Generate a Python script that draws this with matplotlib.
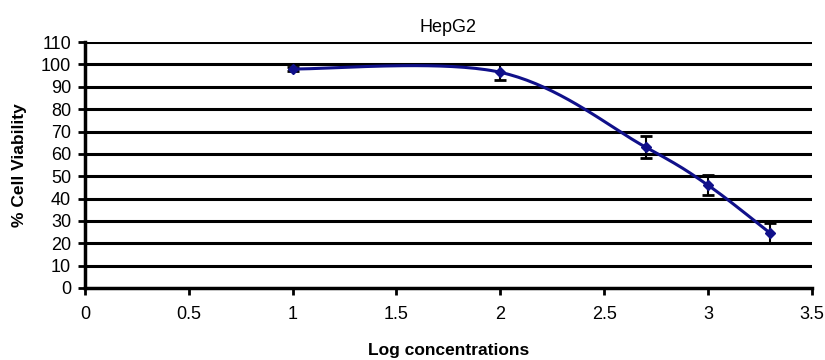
import matplotlib.pyplot as plt
import numpy as np

plt.rcParams['font.family'] = ['Liberation Sans', 'DejaVu Sans']

# data
log_conc = [1, 2, 2.7, 3, 3.3]
viability = [98, 96.5, 63, 46, 24.5]
viability_err = [1, 3.5, 5, 4.5, 4.5]


def smooth_curve(xs, ys, n=40):
    # Excel-like smoothed line: cubic Bezier through the points
    pts = np.column_stack([xs, ys]).astype(float)
    out = []
    for i in range(len(pts) - 1):
        p0 = pts[max(i - 1, 0)]
        p1 = pts[i]
        p2 = pts[i + 1]
        p3 = pts[min(i + 2, len(pts) - 1)]
        c1 = p1 + (p2 - p0) / 6
        c2 = p2 - (p3 - p1) / 6
        t = np.linspace(0, 1, n)[:, None]
        seg = ((1 - t) ** 3) * p1 + 3 * ((1 - t) ** 2) * t * c1 + 3 * (1 - t) * t ** 2 * c2 + t ** 3 * p2
        out.append(seg)
    out = np.vstack(out)
    return out[:, 0], out[:, 1]


fig = plt.figure(figsize=(8.25, 3.6), dpi=100)
ax = fig.add_axes([0.103, 0.2, 0.881, 0.683])

# horizontal grid lines
for yv in range(10, 111, 10):
    ax.axhline(yv, color='black', lw=2.2, zorder=1)

sx, sy = smooth_curve(log_conc, viability)
ax.plot(sx, sy, color='#10108a', lw=2.2, zorder=3)
ax.errorbar(log_conc, viability, yerr=viability_err, fmt='none', ecolor='black',
            elinewidth=1.5, capsize=4, capthick=2, zorder=2)
ax.plot(log_conc, viability, linestyle='none', marker='D', markersize=5.5,
        color='#10108a', zorder=4)

ax.set_xlim(0, 3.5)
ax.set_ylim(0, 110)
ax.set_xticks(np.arange(0, 3.51, 0.5))
ax.set_xticklabels(['0', '0.5', '1', '1.5', '2', '2.5', '3', '3.5'])
ax.set_yticks(range(0, 111, 10))

for side in ['top', 'right']:
    ax.spines[side].set_visible(False)
ax.spines['left'].set_linewidth(2.5)
ax.spines['bottom'].set_linewidth(2.5)

ax.tick_params(axis='y', direction='out', length=5, width=2, labelsize=13, pad=5)
ax.tick_params(axis='x', direction='out', length=5, width=2, labelsize=13, pad=8)

ax.set_title('HepG2', fontsize=13, pad=7)
ax.set_ylabel('% Cell Viability', fontsize=12.5, fontweight='bold')
ax.yaxis.set_label_coords(-0.08, 0.5)
ax.set_xlabel('Log concentrations', fontsize=12.5, fontweight='bold')
ax.xaxis.set_label_coords(0.5, -0.222)

fig.savefig('out.png', dpi=100)
